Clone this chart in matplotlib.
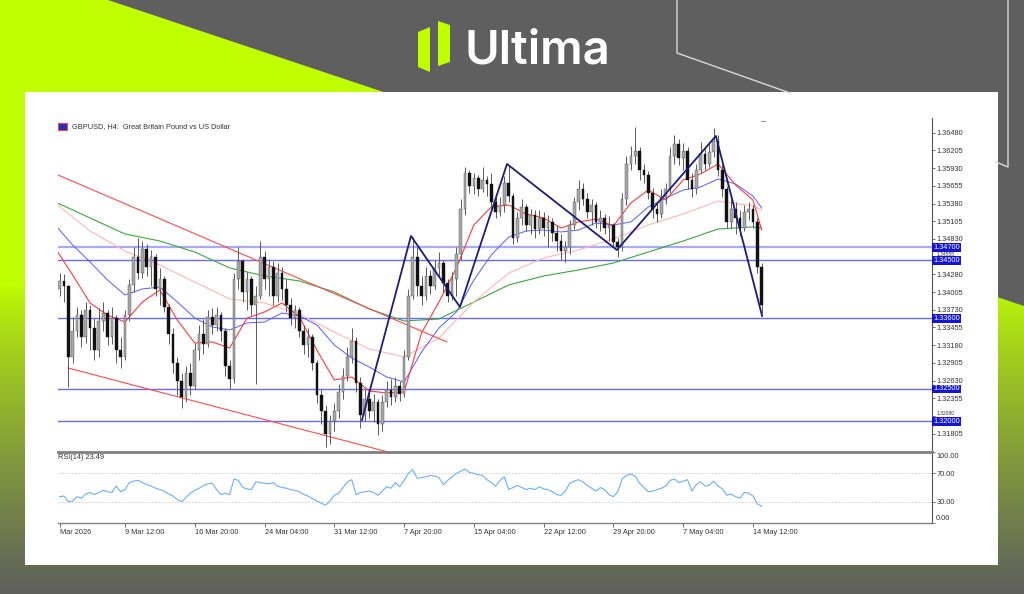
import matplotlib
matplotlib.use('Agg')
import matplotlib.pyplot as plt
from matplotlib.patches import Polygon, Rectangle
import matplotlib.transforms as mtransforms
import numpy as np

# ---------------- data ----------------
first_open = 1.3405
closes = [
1.3418,1.3410,1.3300,1.3340,1.3365,1.3330,1.3372,1.3345,1.3310,1.3355,
1.3368,1.3330,1.3360,1.3310,1.3300,1.3365,1.3412,1.3455,1.3430,1.3468,
1.3440,1.3455,1.3405,1.3420,1.3378,1.3335,1.3290,1.3262,1.3238,1.3275,
1.3255,1.3310,1.3335,1.3320,1.3362,1.3350,1.3365,1.3340,1.3285,1.3265,
1.3420,1.3448,1.3400,1.3420,1.3380,1.3395,1.3455,1.3420,1.3440,1.3395,
1.3430,1.3405,1.3380,1.3360,1.3372,1.3340,1.3318,1.3330,1.3290,1.3240,
1.3215,1.3180,1.3200,1.3215,1.3245,1.3270,1.3300,1.3325,1.3260,1.3210,
1.3235,1.3215,1.3230,1.3195,1.3230,1.3248,1.3238,1.3255,1.3242,1.3300,
1.3395,1.3455,1.3410,1.3395,1.3425,1.3410,1.3438,1.3445,1.3415,1.3395,
1.3420,1.3460,1.3530,1.3585,1.3565,1.3578,1.3560,1.3575,1.3568,1.3540,
1.3525,1.3535,1.3570,1.3550,1.3485,1.3515,1.3532,1.3505,1.3520,1.3498,
1.3515,1.3500,1.3510,1.3492,1.3480,1.3465,1.3470,1.3505,1.3540,1.3560,
1.3545,1.3525,1.3535,1.3510,1.3515,1.3500,1.3505,1.3478,1.3470,1.3545,
1.3600,1.3612,1.3620,1.3590,1.3582,1.3555,1.3530,1.3522,1.3548,1.3560,
1.3612,1.3630,1.3608,1.3620,1.3575,1.3560,1.3590,1.3615,1.3600,1.3618,
1.3635,1.3590,1.3560,1.3510,1.3530,1.3515,1.3500,1.3525,1.3530,1.3510,
1.3440,1.3380]
highs = [
1.3430,1.3428,1.3412,1.3362,1.3378,1.3372,1.3385,1.3380,1.3360,1.3375,
1.3385,1.3372,1.3378,1.3365,1.3330,1.3372,1.3420,1.3470,1.3484,1.3480,
1.3475,1.3466,1.3460,1.3438,1.3425,1.3382,1.3345,1.3300,1.3275,1.3285,
1.3290,1.3322,1.3350,1.3358,1.3372,1.3375,1.3378,1.3370,1.3345,1.3295,
1.3430,1.3470,1.3452,1.3432,1.3425,1.3410,1.3480,1.3465,1.3452,1.3448,
1.3445,1.3440,1.3420,1.3392,1.3380,1.3378,1.3350,1.3345,1.3335,1.3295,
1.3250,1.3225,1.3210,1.3228,1.3258,1.3282,1.3315,1.3345,1.3330,1.3268,
1.3250,1.3245,1.3242,1.3235,1.3240,1.3262,1.3265,1.3268,1.3262,1.3310,
1.3405,1.3486,1.3470,1.3425,1.3440,1.3435,1.3450,1.3462,1.3450,1.3420,
1.3432,1.3470,1.3545,1.3595,1.3590,1.3585,1.3582,1.3595,1.3580,1.3585,
1.3550,1.3548,1.3580,1.3598,1.3555,1.3525,1.3545,1.3538,1.3530,1.3528,
1.3528,1.3525,1.3520,1.3515,1.3505,1.3490,1.3480,1.3512,1.3548,1.3575,
1.3570,1.3555,1.3545,1.3540,1.3528,1.3522,1.3518,1.3508,1.3485,1.3555,
1.3612,1.3628,1.3657,1.3625,1.3600,1.3588,1.3562,1.3540,1.3560,1.3570,
1.3625,1.3644,1.3638,1.3632,1.3625,1.3585,1.3600,1.3634,1.3625,1.3630,
1.3655,1.3645,1.3598,1.3565,1.3545,1.3540,1.3528,1.3535,1.3540,1.3535,
1.3515,1.3445]
lows = [
1.3395,1.3385,1.3253,1.3290,1.3330,1.3315,1.3322,1.3310,1.3295,1.3300,
1.3340,1.3318,1.3320,1.3290,1.3282,1.3295,1.3355,1.3400,1.3420,1.3422,
1.3425,1.3410,1.3395,1.3380,1.3370,1.3320,1.3275,1.3240,1.3220,1.3230,
1.3240,1.3250,1.3295,1.3305,1.3315,1.3335,1.3340,1.3325,1.3270,1.3250,
1.3260,1.3405,1.3385,1.3372,1.3365,1.3258,1.3390,1.3405,1.3395,1.3380,
1.3385,1.3388,1.3370,1.3350,1.3345,1.3330,1.3305,1.3300,1.3280,1.3228,
1.3195,1.3160,1.3165,1.3185,1.3205,1.3235,1.3262,1.3290,1.3245,1.3190,
1.3200,1.3205,1.3198,1.3178,1.3185,1.3222,1.3225,1.3230,1.3232,1.3238,
1.3295,1.3390,1.3395,1.3380,1.3388,1.3398,1.3405,1.3425,1.3400,1.3385,
1.3388,1.3395,1.3450,1.3520,1.3555,1.3552,1.3550,1.3556,1.3550,1.3530,
1.3515,1.3518,1.3525,1.3540,1.3475,1.3478,1.3505,1.3495,1.3490,1.3485,
1.3490,1.3488,1.3470,1.3480,1.3465,1.3450,1.3447,1.3460,1.3498,1.3528,
1.3535,1.3515,1.3505,1.3500,1.3495,1.3490,1.3480,1.3470,1.3455,1.3465,
1.3535,1.3590,1.3600,1.3575,1.3570,1.3545,1.3515,1.3510,1.3515,1.3538,
1.3555,1.3600,1.3598,1.3590,1.3560,1.3548,1.3552,1.3585,1.3590,1.3595,
1.3610,1.3580,1.3548,1.3500,1.3500,1.3490,1.3488,1.3495,1.3512,1.3500,
1.3430,1.3368]

rsi = [
37,38,30,31,37,35,41,43,40,43, 46,44,43,52,44,47,57,59,60,57,
54,52,49,47,45,41,38,33,30,36, 42,46,49,53,55,56,47,40,42,40,
62,60,50,48,47,58,57,56,55,57, 52,50,49,47,46,44,40,38,34,31,
28,25,31,39,42,50,58,61,40,43, 44,45,43,39,45,51,49,57,51,60,
70,75,63,64,65,67,66,64,54,60, 65,70,73,76,71,70,68,67,61,57,
52,60,65,47,50,53,50,47,49,47, 51,48,47,44,40,39,45,56,59,61,
58,53,49,45,50,47,40,37,44,62, 67,69,66,56,50,44,45,47,49,52,
60,62,57,59,61,45,54,58,52,53, 59,52,48,39,41,37,35,43,42,38,
27,23.49]

# moving averages
ma_slow_idx = [0,8,16,24,32,40,48,56,64,72,80,88,96,104,112,120,128,136,144,152,160,162]
ma_green = [1.35404,1.35155,1.34907,1.34798,1.34627,1.34379,1.34255,1.34177,1.34006,1.33742,1.33556,
            1.33587,1.33851,1.34115,1.34255,1.34348,1.34456,1.34627,1.34798,1.34984,1.35016,1.35000]
ma_pink = [1.35388,1.34953,1.34643,1.34425,1.34161,1.33897,1.33835,1.33664,1.33385,1.33121,1.32997,
           1.33292,1.33851,1.34301,1.34534,1.34658,1.34829,1.35047,1.35217,1.35419,1.35342,1.35280]
ma_fast_idx = list(range(0, 161, 4)) + [162]
ma_blue = [1.35047,1.34736,1.34472,1.34192,1.33960,1.34053,1.34084,1.33851,1.33602,1.33463,1.33416,
           1.33525,1.33540,1.33680,1.33633,1.33494,1.33183,1.32981,1.32841,1.32686,1.32608,1.33074,
           1.33447,1.33695,1.34192,1.34581,1.34860,1.34953,1.34969,1.34938,1.34969,1.35078,1.35047,
           1.35093,1.35326,1.35466,1.35590,1.35637,1.35761,1.35683,1.35497,1.35311]
ma_red = [1.34689,1.34270,1.33835,1.33649,1.33540,1.33851,1.34037,1.33571,1.33214,1.33230,1.33136,
          1.33602,1.33695,1.33835,1.33618,1.33105,1.32639,1.32686,1.32469,1.32438,1.32453,1.33369,
          1.33851,1.34379,1.35047,1.35326,1.35357,1.35217,1.35155,1.35000,1.35093,1.35140,1.35031,
          1.35388,1.35590,1.35435,1.35745,1.35839,1.35994,1.35668,1.35435,1.34969]

# drawn objects
channel_upper_idx = [0.64, 89.8]
channel_upper_px = [1.35823, 1.33230]
channel_lower_idx = [2.94, 76.3]
channel_lower_px = [1.32826, 1.31521]
zz_idx = [70.35, 81.58, 92.82, 103.6, 128.8, 151.5, 162.1]
zz_px = [1.32018, 1.34876, 1.33773, 1.35994, 1.34658, 1.36429, 1.33633]
levels = [1.34700, 1.34500, 1.33600, 1.32500, 1.32000]

price_ticks = [1.36480,1.36205,1.35930,1.35655,1.35380,1.35105,1.34830,1.34555,1.34280,
               1.34005,1.33730,1.33455,1.33180,1.32905,1.32630,1.32355,1.32080,1.31805]
x_tick_idx = [1,16,32,48,64,80,96,112,128,144,160]
x_tick_labels = ["Mar 2026","9 Mar 12:00","16 Mar 20:00","24 Mar 04:00","31 Mar 12:00",
                 "7 Apr 20:00","15 Apr 04:00","22 Apr 12:00","29 Apr 20:00","7 May 04:00","14 May 12:00"]

# ---------------- figure ----------------
W, H = 1024, 594
fig = plt.figure(figsize=(10.24, 5.94), dpi=100)
FONT = 'Liberation Sans'

def fx(x): return x / W
def fy(y): return 1 - y / H

bg = fig.add_axes([0, 0, 1, 1], zorder=-10)
bg.set_xlim(0, W); bg.set_ylim(H, 0); bg.axis('off')
lime = np.array([0.75, 1.0, 0.0]); gray = np.array([0.37, 0.37, 0.37])
yy = np.arange(H)
t = np.clip((yy - 285) / (H - 285), 0, 1) ** 0.8
grad = (lime[None, :] * (1 - t[:, None]) + gray[None, :] * t[:, None])[:, None, :]
bg.imshow(grad, extent=[0, W, H, 0], aspect='auto', interpolation='bilinear')
bg.add_patch(Polygon([(108, 0), (W, 0), (W, 306)], closed=True, fc='#5f5f5f', ec='none'))
bg.plot([677, 677, 790], [0, 53, 93], color='#d8d8d8', lw=1.0)
bg.plot([1008, 1008, 996], [0, 167, 162], color='#d8d8d8', lw=1.0)
bg.add_patch(Rectangle((25, 92), 973, 473, fc='white', ec='none'))
# logo
bg.add_patch(Polygon([(418, 32), (430, 27), (430, 72), (418, 67)], closed=True, fc='#bfff00', ec='none'))
bg.add_patch(Polygon([(438, 21), (450, 25), (450, 62), (438, 66)], closed=True, fc='#bfff00', ec='none'))
bg.text(464, 64, "Ultima", color='white', fontsize=34, family='Inter', weight='semibold',
        ha='left', va='baseline')
# chart title icon
bg.add_patch(Rectangle((58, 123), 9, 7, fc='#2030c0', ec='#ff4040', lw=0.8))
# ask marker
bg.plot([761, 765], [121, 121], color='#999999', lw=0.8)

x_left = (58 - 55.2) / 4.361
x_right = (932 - 55.2) / 4.361

ax = fig.add_axes([fx(58), fy(452), (932 - 58) / W, (452 - 118) / H])
ax.patch.set_visible(False)
ax.set_xlim(x_left, x_right)
ax.set_ylim(1.31521, 1.36708)

idx = np.arange(1, len(closes) + 1)
c = np.array(closes); hi = np.array(highs); lo = np.array(lows)
o = np.concatenate([[first_open], c[:-1]])
hi = np.maximum(hi, np.maximum(o, c)); lo = np.minimum(lo, np.minimum(o, c))

for lv in levels:
    if lv == 1.347:
        ax.axhline(lv, color='#a9a9f7', lw=1.6, zorder=1)
    else:
        ax.axhline(lv, color='#6a6aee', lw=1.0, zorder=1)

ax.plot(ma_slow_idx, ma_green, color='#3aa83a', lw=0.8, zorder=2)
ax.plot(ma_slow_idx, ma_pink, color='#ffb4b4', lw=0.8, zorder=2)
ax.plot(ma_fast_idx, ma_blue, color='#5a5aff', lw=0.7, zorder=2)
ax.plot(ma_fast_idx, ma_red, color='#ff3a3a', lw=0.8, zorder=2)
ax.plot(channel_upper_idx, channel_upper_px, color='#ff4a4a', lw=0.8, zorder=2)
ax.plot(channel_lower_idx, channel_lower_px, color='#ff4a4a', lw=0.8, zorder=2)

ax.vlines(idx, lo, hi, color='#5a5a5a', lw=0.7, zorder=3)
up = c >= o
bot = np.minimum(o, c); hgt = np.maximum(np.abs(c - o), 0.00006)
ax.bar(idx[up], hgt[up], bottom=bot[up], width=0.62, color='#a8a8a8', edgecolor='#505050', lw=0.3, zorder=4)
ax.bar(idx[~up], hgt[~up], bottom=bot[~up], width=0.62, color='#111111', edgecolor='#111111', lw=0.3, zorder=4)

ax.plot(zz_idx, zz_px, color='#1c1c7c', lw=1.3, zorder=5)

for s in ['top', 'left', 'bottom']:
    ax.spines[s].set_visible(False)
ax.spines['right'].set_color('#555555'); ax.spines['right'].set_linewidth(0.8)
ax.set_xticks([])
ax.yaxis.tick_right()
ax.set_yticks(price_ticks)
ax.set_yticklabels([f"{v:.5f}" for v in price_ticks])
ax.tick_params(axis='y', direction='out', length=2.5, width=0.6, color='#555555',
               labelsize=5.3, pad=1, labelcolor='#333333')
for lab, v in zip(ax.get_yticklabels(), price_ticks):
    lab.set_family(FONT)
    # labels that sit under a level box: shrink so they peek out like the original
    if any(abs(v - lv) < 0.0009 for lv in levels):
        lab.set_fontsize(3.6)
        lab.set_va('bottom' if v > min(levels, key=lambda lv: abs(v - lv)) else 'top')
trans = mtransforms.blended_transform_factory(ax.transAxes, ax.transData)
for lv in levels:
    ax.text(1.0015, lv, f"{lv:.5f}", transform=trans, color='white', fontsize=5.3, family=FONT,
            ha='left', va='center', zorder=10, clip_on=False,
            bbox=dict(boxstyle='square,pad=0.12', fc='#1414d2', ec='none'))

# RSI panel
ax2 = fig.add_axes([fx(58), fy(523), (932 - 58) / W, (523 - 452) / H])
ax2.set_facecolor('white')
ax2.set_xlim(x_left, x_right)
ax2.set_ylim(0, 100)
ax2.axhline(70, color='#c8c8c8', lw=0.6, ls=(0, (2, 2)))
ax2.axhline(30, color='#c8c8c8', lw=0.6, ls=(0, (2, 2)))
ax2.plot(idx, rsi, color='#6aaeff', lw=0.8)
ax2.spines['left'].set_visible(False)
ax2.spines['top'].set_color('#808080'); ax2.spines['top'].set_linewidth(2.0)
ax2.spines['bottom'].set_color('#808080'); ax2.spines['bottom'].set_linewidth(1.0)
ax2.spines['right'].set_color('#555555'); ax2.spines['right'].set_linewidth(0.8)
ax2.yaxis.tick_right()
ax2.set_yticks([0, 30, 70, 100])
ax2.set_yticklabels(['', '30.00', '70.00', ''])
ax2.tick_params(axis='y', direction='out', length=2.5, width=0.6, color='#555555',
                labelsize=5.3, pad=1, labelcolor='#333333')
for lab in ax2.get_yticklabels():
    lab.set_family(FONT)
tr2 = mtransforms.blended_transform_factory(ax2.transAxes, ax2.transData)
ax2.text(1.0045, 99, "100.00", transform=tr2, fontsize=5.3, family=FONT, color='#333333', ha='left', va='top')
ax2.text(1.0045, 1, "0.00", transform=tr2, fontsize=5.3, family=FONT, color='#333333', ha='left', va='bottom')
ax2.set_xticks(x_tick_idx)
ax2.set_xticklabels(x_tick_labels)
ax2.tick_params(axis='x', direction='out', length=3, width=0.6, color='#555555',
                labelsize=5.3, pad=1.5, labelcolor='#333333')
for lab in ax2.get_xticklabels():
    lab.set_ha('left'); lab.set_family(FONT)
ax2.text(0.0, 0.97, "RSI(14) 23.49", transform=ax2.transAxes, fontsize=5.3, family=FONT,
         color='#333333', ha='left', va='top')

fig.text(fx(72), fy(127), "GBPUSD, H4:  Great Britain Pound vs US Dollar", fontsize=5.3,
         family=FONT, color='#333333', ha='left', va='center')

fig.savefig('out.png', dpi=100)
